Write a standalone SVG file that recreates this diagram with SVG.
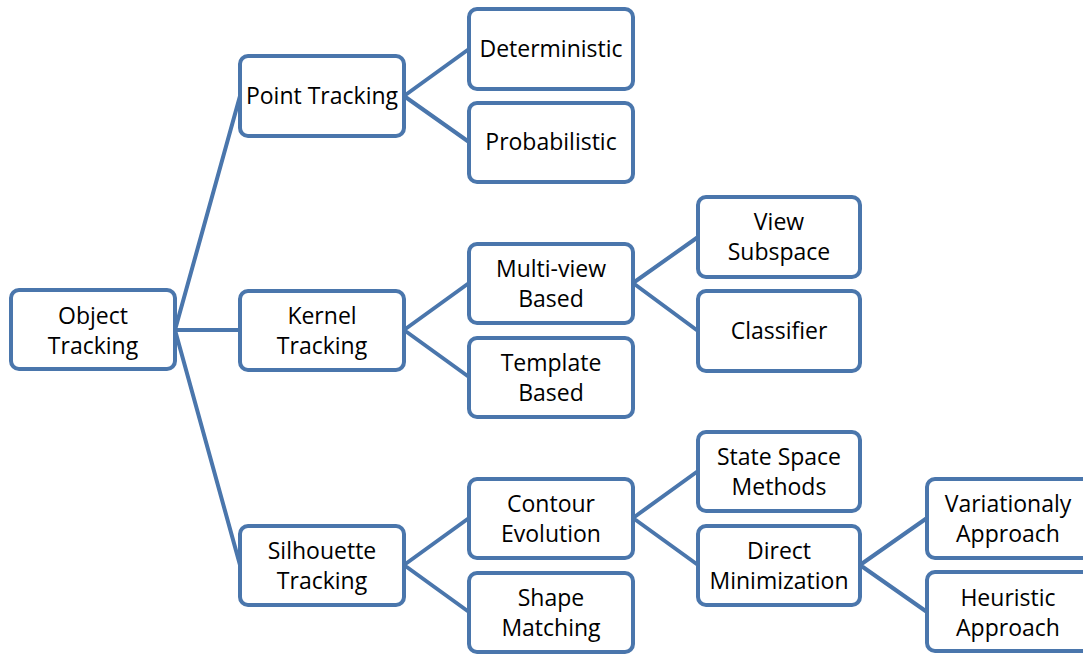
<svg xmlns="http://www.w3.org/2000/svg" width="1083" height="654" viewBox="0 0 1083 654">
<style>
.b{fill:#fff;stroke:#4A76AC;stroke-width:4}
.c{stroke:#4A76AC;stroke-width:4;fill:none}
text{font-family:"Open Sans","Liberation Sans",sans-serif;font-size:23px;fill:#000;text-anchor:middle}
</style>
<rect width="1083" height="654" fill="#fff"/>
<g id="connectors">
<path class="c" d="M175 330L240 96M175 330H240M175 330L240 565"/>
<path class="c" d="M404 96L469 49M404 96L469 142"/>
<path class="c" d="M404 330L469 283M404 330L469 377"/>
<path class="c" d="M404 565L469 518M404 565L469 612"/>
<path class="c" d="M633 283L698 237M633 283L698 331"/>
<path class="c" d="M633 518L698 471M633 518L698 565"/>
<path class="c" d="M860 565L927 518M860 565L927 612"/>
</g>
<g id="n-object"><rect class="b" x="11" y="290" width="164" height="79" rx="8"/><text x="93" y="324">Object</text><text x="93" y="354">Tracking</text></g>
<g id="n-point"><rect class="b" x="240" y="56" width="164" height="80" rx="8"/><text x="322" y="104">Point Tracking</text></g>
<g id="n-kernel"><rect class="b" x="240" y="291" width="164" height="79" rx="8"/><text x="322" y="324">Kernel</text><text x="322" y="354">Tracking</text></g>
<g id="n-silhouette"><rect class="b" x="240" y="526" width="164" height="79" rx="8"/><text x="322" y="559">Silhouette</text><text x="322" y="589">Tracking</text></g>
<g id="n-det"><rect class="b" x="469" y="9" width="164" height="80" rx="8"/><text x="551" y="57">Deterministic</text></g>
<g id="n-prob"><rect class="b" x="469" y="103" width="164" height="79" rx="8"/><text x="551" y="150">Probabilistic</text></g>
<g id="n-multi"><rect class="b" x="469" y="244" width="164" height="79" rx="8"/><text x="551" y="277">Multi-view</text><text x="551" y="307">Based</text></g>
<g id="n-template"><rect class="b" x="469" y="338" width="164" height="79" rx="8"/><text x="551" y="371">Template</text><text x="551" y="401">Based</text></g>
<g id="n-view"><rect class="b" x="698" y="197" width="162" height="80" rx="8"/><text x="779" y="230">View</text><text x="779" y="260">Subspace</text></g>
<g id="n-classifier"><rect class="b" x="698" y="291" width="162" height="80" rx="8"/><text x="779" y="339">Classifier</text></g>
<g id="n-contour"><rect class="b" x="469" y="479" width="164" height="79" rx="8"/><text x="551" y="512">Contour</text><text x="551" y="542">Evolution</text></g>
<g id="n-shape"><rect class="b" x="469" y="573" width="164" height="79" rx="8"/><text x="551" y="606">Shape</text><text x="551" y="636">Matching</text></g>
<g id="n-state"><rect class="b" x="698" y="432" width="162" height="79" rx="8"/><text x="779" y="465">State Space</text><text x="779" y="495">Methods</text></g>
<g id="n-direct"><rect class="b" x="698" y="526" width="162" height="79" rx="8"/><text x="779" y="559">Direct</text><text x="779" y="589">Minimization</text></g>
<g id="n-var"><rect class="b" x="927" y="479" width="170" height="79" rx="8"/><text x="1008" y="512">Variationaly</text><text x="1008" y="542">Approach</text></g>
<g id="n-heur"><rect class="b" x="927" y="572" width="170" height="79" rx="8"/><text x="1008" y="606">Heuristic</text><text x="1008" y="636">Approach</text></g>
</svg>
